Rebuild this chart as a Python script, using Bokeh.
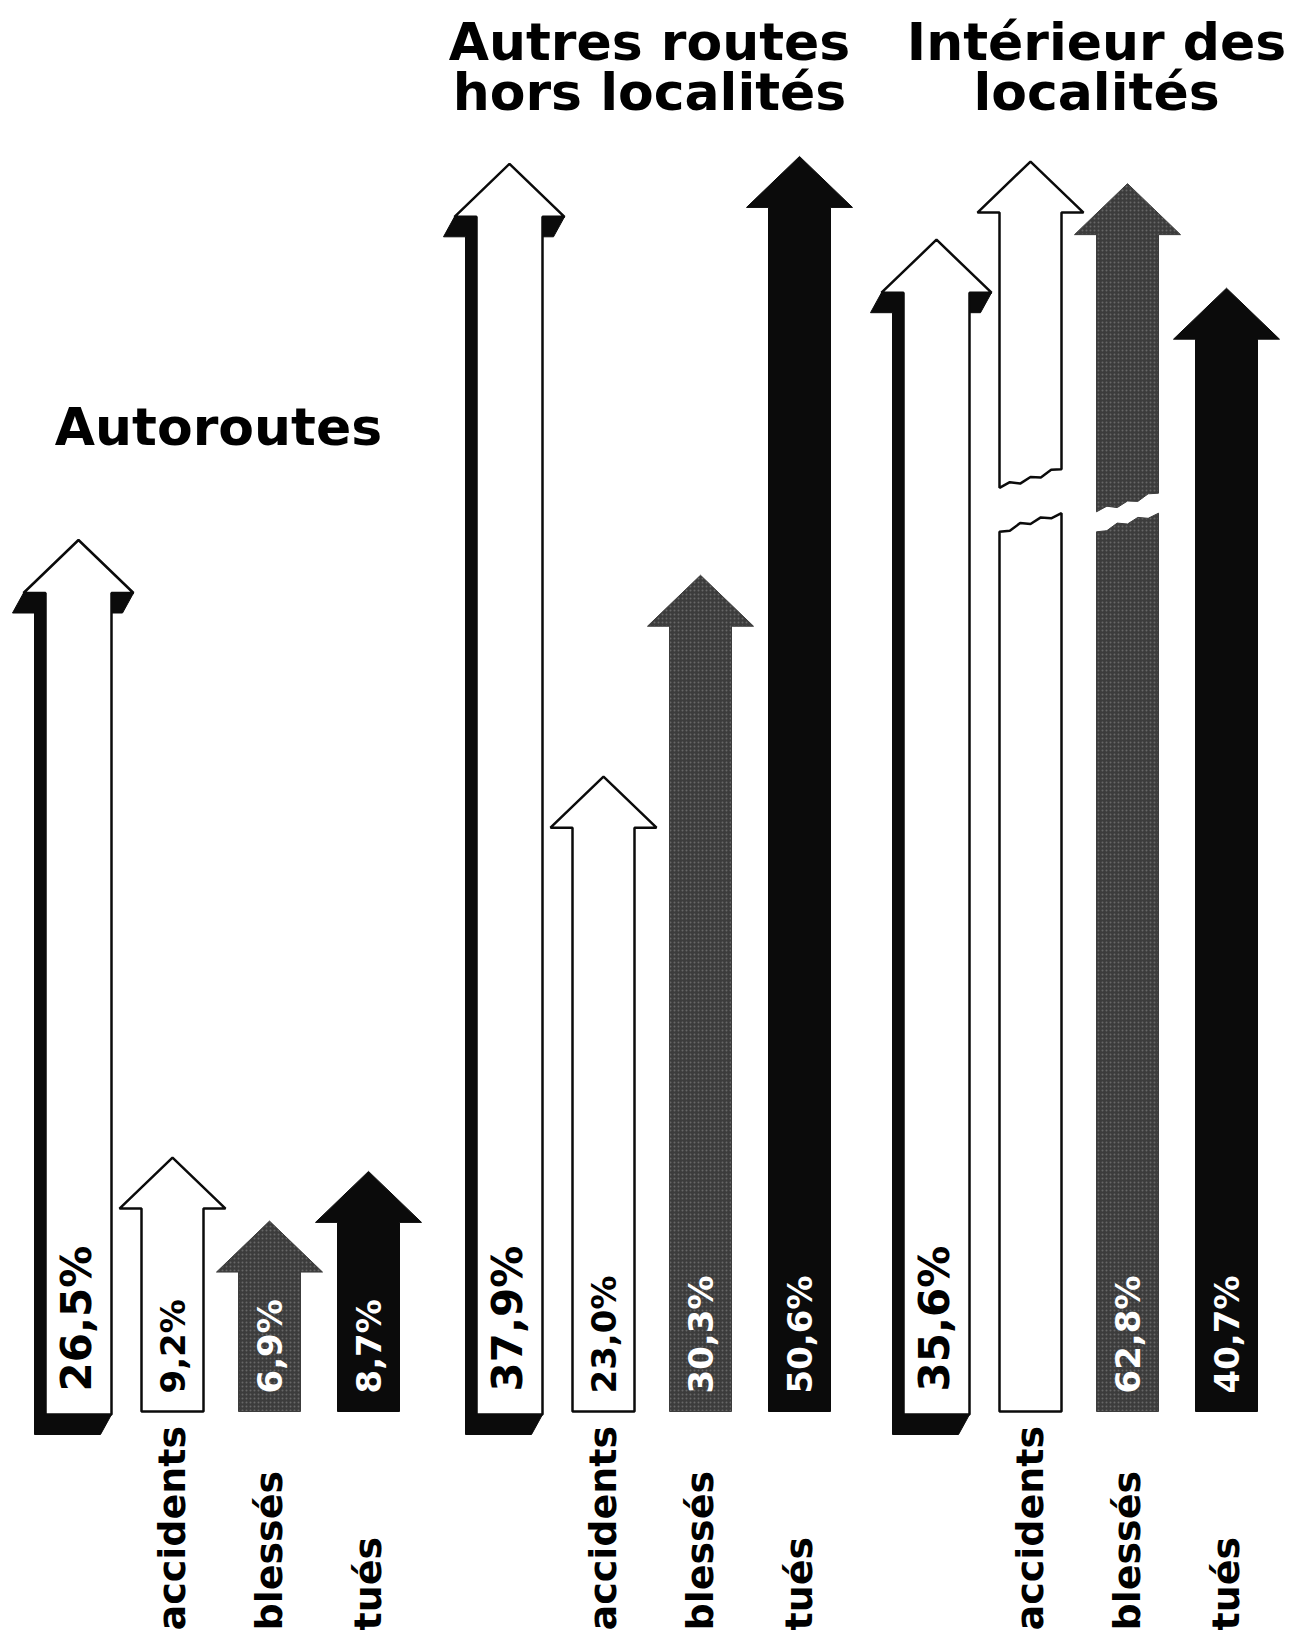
import numpy as np
from bokeh.plotting import figure
from bokeh.models import Range1d
from bokeh.core.properties import value
from bokeh.embed import file_html
from bokeh.resources import INLINE

# ---------------- data ----------------
group_titles = [["Autoroutes"], ["Autres routes", "hors localités"], ["Intérieur des", "localités"]]
share = [26.5, 37.9, 35.6]                       # large 3-D arrows
share_labels = ["26,5%", "37,9%", "35,6%"]
categories = ["accidents", "blessés", "tués"]
accidents = [9.2, 23.0, 67.8]
blesses = [6.9, 30.3, 62.8]
tues = [8.7, 50.6, 40.7]
accidents_labels = ["9,2%", "23,0%", ""]
blesses_labels = ["6,9%", "30,3%", "62,8%"]
tues_labels = ["8,7%", "50,6%", "40,7%"]

# ---------------- layout / style ----------------
W, H = 1308, 1644
BASE_SMALL, PX_SMALL = 1411, 27.6     # page y of 0 %, px per %
BASE_BIG, PX_BIG = 1414, 33.0
GROUP_X = [78, 509, 936]              # centre of big arrow front face
SMALL_DX = [94, 191, 290]
SW, HW, HH = 31, 53, 51               # small arrow half shaft, half head, head height (px)
SW_B, HW_B, HH_B = 33, 55, 53
DEPTH_DX, DEPTH_DY = -11, 20
COMPRESS_T, COMPRESS_K = 41.0, 0.466  # scale compressed above this value
BREAK_THRESHOLD = 55.0                # values above are drawn on a broken shaft
BROKEN_BASE, BROKEN_K = 43.24, 0.16
BREAK_CENTER = {"accidents": 500, "blessés": 512}   # page y of the break
BREAK_GAP = {"accidents": 44, "blessés": 20}
SLANT = 0.3
WAVE_UP = [0, 2.5, -2, 1.5, -2, 2.5, 0]
WAVE_LO = [0, -2, 2.5, -1.5, 2, -2, 0]
FONT = value("DejaVu Sans")
COLORS = {"accidents": "#ffffff", "blessés": "#3c3c3c", "tués": "#0b0b0b"}
TEXT_COLORS = {"accidents": "#000000", "blessés": "#ffffff", "tués": "#ffffff"}
TITLE_POS = [(218, 426), (649, 41), (1096, 41)]
TITLE_STEP = 50


def ys(page_y):
    return (BASE_SMALL - page_y) / PX_SMALL


def disp(v):
    if v <= COMPRESS_T:
        return v
    return COMPRESS_T + (v - COMPRESS_T) * COMPRESS_K


p = figure(width=W, height=H, x_range=Range1d(0, W),
           y_range=Range1d((BASE_SMALL - H) / PX_SMALL, BASE_SMALL / PX_SMALL),
           toolbar_location=None, output_backend="svg", min_border=0)
p.extra_y_ranges = {"big": Range1d((BASE_BIG - H) / PX_BIG, BASE_BIG / PX_BIG)}
p.axis.visible = False
p.grid.visible = False
p.outline_line_color = None
p.background_fill_color = "white"
p.border_fill_color = "white"

# ---------------- big 3-D arrows ----------------
sh_xs, sh_ys, fr_xs, fr_ys = [], [], [], []
for g, v in enumerate(share):
    c = GROUP_X[g]
    xl, xr, wl, wr = c - SW_B, c + SW_B, c - HW_B, c + HW_B
    hb = v - HH_B / PX_BIG
    ddy = -DEPTH_DY / PX_BIG
    sh_xs.append([wl, xl, xl, xr, xr + DEPTH_DX, xl + DEPTH_DX, xl + DEPTH_DX, wl + DEPTH_DX])
    sh_ys.append([hb, hb, 0, 0, ddy, ddy, hb + ddy, hb + ddy])
    sh_xs.append([xr, wr, wr + DEPTH_DX, xr])
    sh_ys.append([hb, hb, hb + ddy, hb + ddy])
    fr_xs.append([xl, xl, wl, c, wr, xr, xr])
    fr_ys.append([0, hb, hb, v, hb, hb, 0])
p.patches(sh_xs, sh_ys, y_range_name="big", fill_color="#0b0b0b", line_color="#0b0b0b", line_width=1)
p.patches(fr_xs, fr_ys, y_range_name="big", fill_color="white", line_color="#0b0b0b", line_width=2.5)
p.text(x=[GROUP_X[g] - 2 for g in range(3)], y=[23 / PX_BIG] * 3, text=share_labels,
       y_range_name="big", angle=np.pi / 2, text_align="left", text_baseline="middle",
       text_font=FONT, text_font_style="bold", text_font_size="42px", text_color="#000000")

# ---------------- small arrows ----------------
series = {"accidents": (accidents, accidents_labels), "blessés": (blesses, blesses_labels),
          "tués": (tues, tues_labels)}
for k, cat in enumerate(categories):
    vals, labs = series[cat]
    xs, yv = [], []
    for g, v in enumerate(vals):
        c = GROUP_X[g] + SMALL_DX[k]
        if v > BREAK_THRESHOLD:
            top = BROKEN_BASE + (v - BREAK_THRESHOLD) * BROKEN_K
            hb = top - HH / PX_SMALL
            xw = np.linspace(c - SW, c + SW, len(WAVE_UP))
            slope = (xw - c) * SLANT / PX_SMALL
            gap = BREAK_GAP[cat] / 2 / PX_SMALL
            bc = ys(BREAK_CENTER[cat])
            ub = bc + gap + slope + np.array(WAVE_UP) / PX_SMALL
            lb = bc - gap + slope + np.array(WAVE_LO) / PX_SMALL
            xs.append([c - SW, c - SW, c - HW, c, c + HW, c + SW] + list(xw[::-1]))
            yv.append([ub[0], hb, hb, top, hb, hb] + list(ub[::-1]))
            xs.append([c - SW] + list(xw) + [c + SW])
            yv.append([0] + list(lb) + [0])
        else:
            top = disp(v)
            hb = top - HH / PX_SMALL
            xs.append([c - SW, c - SW, c - HW, c, c + HW, c + SW, c + SW])
            yv.append([0, hb, hb, top, hb, hb, 0])
    if cat == "accidents":
        p.patches(xs, yv, fill_color="white", line_color="#0b0b0b", line_width=2.5)
    elif cat == "blessés":
        p.patches(xs, yv, fill_color=COLORS[cat], line_color=COLORS[cat], line_width=1,
                  hatch_pattern="dot", hatch_color="#8a8a8a", hatch_scale=4, hatch_alpha=0.55,
                  hatch_weight=1)
    else:
        p.patches(xs, yv, fill_color=COLORS[cat], line_color=COLORS[cat], line_width=1)
    lx = [GROUP_X[g] + SMALL_DX[k] for g in range(3)]
    p.text(x=lx, y=[18 / PX_SMALL] * 3, text=labs, angle=np.pi / 2, text_align="left",
           text_baseline="middle", text_font=FONT, text_font_style="bold",
           text_font_size="34px", text_color=TEXT_COLORS[cat])
    p.text(x=[x - 1 for x in lx], y=[ys(1630)] * 3, text=[cat] * 3,
           angle=np.pi / 2, text_align="left", text_baseline="middle", text_font=FONT,
           text_font_style="bold", text_font_size="38px", text_color="#000000")

# ---------------- titles ----------------
for g, lines in enumerate(group_titles):
    tx, ty = TITLE_POS[g]
    for i, line in enumerate(lines):
        p.text(x=[tx], y=[ys(ty + i * TITLE_STEP)], text=[line],
               text_align="center", text_baseline="alphabetic", text_font=FONT,
               text_font_style="bold", text_font_size="52px", text_color="#000000")

open("out.html", "w").write(file_html(p, INLINE))
